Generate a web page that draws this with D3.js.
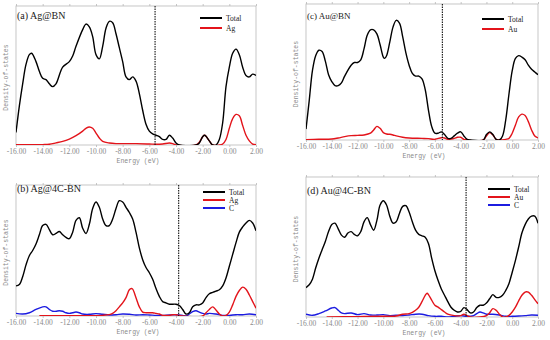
<!DOCTYPE html>
<html>
<head>
<meta charset="utf-8">
<script src="https://cdn.jsdelivr.net/npm/d3@7"></script>
<style>
  body { margin: 0; background: #fff; }
  svg { display: block; }
</style>
</head>
<body>
<svg id="chart" width="550" height="340"></svg>
<script>
// energy ticks shared by all panels
var energyTicks = [-16, -14, -12, -10, -8, -6, -4, -2, 0, 2];

// [energy (eV), DOS in arbitrary units, 0..100 of the panel height]
var totalA = [[-16,9],[-15.75,28],[-15.5,44],[-15.25,58],[-15,65],[-14.83,66],[-14.5,60],[-14.25,53],[-14,48],[-13.75,47],[-13.5,44],[-13.25,42],[-13,44],[-12.5,56],[-12,60],[-11.75,64],[-11.5,71],[-11,83],[-10.75,87],[-10.5,85],[-10.25,78],[-10,65],[-9.75,62],[-9.5,71],[-9.25,84],[-9,89],[-8.75,88],[-8.5,80],[-8.25,70],[-8,60],[-7.75,49],[-7.5,47],[-7.25,49],[-7,46],[-6.75,37],[-6.5,25],[-6.25,15],[-6,10],[-5.75,8],[-5.5,7],[-5.25,6],[-5,4],[-4.75,4],[-4.5,7],[-4.25,5],[-4,1.5],[-3.75,0],[-2.5,0],[-2.25,1.5],[-2,6],[-1.85,7],[-1.5,3],[-1.25,0],[-1,0],[-0.75,4],[-0.5,16],[-0.25,42],[0,56],[0.25,66],[0.5,69],[0.75,65],[1,56],[1.25,50],[1.5,49],[1.75,51],[2,50]];
var agA = [[-16,0.3],[-14,0.3],[-13.5,0.5],[-13,1.5],[-12.5,2.6],[-12,4.3],[-11.5,6.7],[-11,10],[-10.75,12],[-10.5,13],[-10.25,12],[-10,8.6],[-9.75,5],[-9.5,2.6],[-9,1.4],[-8.5,1],[-7,1],[-6,0.7],[-5.5,0.5],[-5,0.7],[-4.5,1.4],[-4.25,1],[-4,0],[-2.5,0],[-2.25,2],[-2,6],[-1.85,7],[-1.5,3],[-1.25,0],[-0.75,0],[-0.5,0.7],[-0.25,4],[0,12],[0.25,19],[0.5,22],[0.75,21],[1,14],[1.25,7],[1.5,3],[1.75,0.7],[2,0.3]];

var totalB = [[-16,23],[-15.75,24],[-15.5,30],[-15.25,39],[-15,46],[-14.75,50],[-14.5,55],[-14.25,62],[-14,69],[-13.75,70],[-13.5,66],[-13.25,62],[-13,63],[-12.75,64.5],[-12.5,62],[-12.25,60],[-12,59],[-11.75,64],[-11.5,73],[-11.25,75],[-11,67],[-10.75,63],[-10.5,70],[-10.25,82],[-10,87],[-9.75,83],[-9.5,74],[-9.25,69],[-9,69],[-8.75,74],[-8.5,82],[-8.25,88],[-8,87],[-7.75,83],[-7.5,79],[-7.25,74],[-7,64],[-6.75,52],[-6.5,43],[-6.25,37],[-6,33],[-5.75,28],[-5.5,21],[-5.25,15],[-5,11],[-4.75,10],[-4.5,9],[-4,9],[-3.75,8],[-3.5,5],[-3.25,1.5],[-3,2.5],[-2.75,7],[-2.5,8.5],[-2.25,8.5],[-2,10],[-1.75,14],[-1.5,17],[-1.25,18],[-1,19],[-0.75,20],[-0.5,23],[-0.25,29],[0,38],[0.25,47],[0.5,56],[0.75,64],[1,68],[1.25,71],[1.5,73],[1.75,71],[2,65]];
var agB = [[-14.25,0.3],[-9.5,0.5],[-9,1],[-8.75,2],[-8.5,4],[-8.25,7],[-8,10],[-7.75,14],[-7.5,20],[-7.35,21],[-7.25,20.5],[-7,14],[-6.75,7],[-6.5,3],[-6.25,2.5],[-5.75,2.5],[-5.5,2],[-5.25,1.5],[-5,0.5],[-4.5,0.5],[-4.25,1],[-4,1],[-3.75,0.5],[-3.5,0],[-2,0],[-1.75,2.5],[-1.5,5],[-1.25,7],[-1,4.6],[-0.75,1.5],[-0.5,0],[-0.25,0.5],[0,3],[0.25,8.5],[0.5,15],[0.75,19.5],[1,22],[1.25,20.5],[1.5,16],[1.75,11],[2,6]];
var cB = [[-16,2],[-15.5,1.5],[-15,2.5],[-14.5,5],[-14,7],[-13.75,7],[-13.5,5],[-13.25,3.6],[-13,3.6],[-12.75,4],[-12.5,3.6],[-12.25,2.5],[-12,2],[-11.75,2.5],[-11.5,3],[-11.25,2.5],[-11,1.5],[-10.5,1.3],[-10,1.8],[-9.5,1.3],[-9,0.8],[-8.5,1],[-8,1.5],[-7.5,1.3],[-7,0.8],[-6.5,1],[-6,0.8],[-5.5,0.5],[-5,0.5],[-4.5,0.8],[-4,1],[-3.5,0.5],[-3.25,0],[-3,1.5],[-2.75,3.3],[-2.5,4],[-2.25,3],[-2,2],[-1.75,1.5],[-1.5,2],[-1,1.5],[-0.5,0.5],[0,0.5],[0.5,1],[1,1],[1.5,1.5],[2,1]];

var totalC = [[-16,8],[-15.75,29],[-15.5,51],[-15.25,62],[-15,66],[-14.75,65],[-14.5,58],[-14.25,48],[-14,43],[-13.75,40],[-13.5,40],[-13.25,42],[-13,47],[-12.5,55],[-12.25,57],[-12,57],[-11.75,59],[-11.5,67],[-11.25,77],[-11,81],[-10.75,81],[-10.5,78],[-10.25,70],[-10,61],[-9.9,60],[-9.75,62],[-9.5,72],[-9.25,83],[-9,88],[-8.75,86],[-8.5,76],[-8.25,64],[-8,55],[-7.75,49],[-7.5,47],[-7.25,47],[-7,45],[-6.75,37],[-6.5,22],[-6.25,10],[-6,5],[-5.75,5],[-5.5,6],[-5.25,4],[-5,1.2],[-4.75,1.2],[-4.5,3],[-4.25,5],[-4,6],[-3.75,3],[-3.5,0.5],[-3.25,0],[-2.25,0],[-2,4],[-1.75,6],[-1.5,4],[-1.25,0.5],[-1,0],[-0.75,3],[-0.5,15],[-0.25,34],[0,51],[0.25,60],[0.5,62],[0.75,61],[1,59],[1.25,55],[1.5,52],[1.75,50],[2,48]];
var auC = [[-16,0.3],[-15,0.5],[-14,0.7],[-13.5,1.5],[-13,2.5],[-12.5,3.2],[-12,3.4],[-11.5,3.7],[-11,5],[-10.75,7.4],[-10.5,10],[-10.25,8.6],[-10,5.4],[-9.75,4.4],[-9.5,4.2],[-9.25,3.7],[-9,3],[-8.5,2],[-8,1.5],[-7,1.2],[-6.5,1],[-6,0.5],[-5.5,1.7],[-5.25,1.5],[-5,0.5],[-4.5,1.2],[-4.25,2],[-4,2],[-3.75,0.5],[-3.5,0],[-2.25,0],[-2,3],[-1.75,5.4],[-1.5,3.7],[-1.25,0.5],[-1,0],[-0.5,0.5],[-0.25,1.2],[0,5],[0.25,11],[0.5,17],[0.75,19],[1,18],[1.25,13.5],[1.5,7.4],[1.75,3],[2,1.5]];

var totalD = [[-16,21],[-15.75,23],[-15.5,27],[-15.25,35],[-15,42],[-14.75,48],[-14.5,54],[-14.25,61],[-14,66],[-13.75,67],[-13.5,63],[-13.25,58.5],[-13,57],[-12.75,60],[-12.5,61],[-12.25,59],[-12,58],[-11.75,61],[-11.5,68],[-11.25,71],[-11,66],[-10.75,62],[-10.5,69],[-10.25,80],[-10,83],[-9.75,80],[-9.5,72],[-9.25,67],[-9,68],[-8.75,74],[-8.5,79],[-8.25,79.5],[-8,75],[-7.75,68],[-7.5,62],[-7.25,59],[-7,58],[-6.75,57],[-6.5,52.5],[-6.25,42],[-6,33],[-5.75,26],[-5.5,20],[-5.25,15.5],[-5,11],[-4.75,7],[-4.5,4.8],[-4.25,3.6],[-4,4],[-3.75,6.7],[-3.5,5.3],[-3.25,2.9],[-3,3.6],[-2.75,6.7],[-2.5,8.4],[-2.25,8.4],[-2,10],[-1.75,13],[-1.5,16],[-1.25,14],[-1,14],[-0.75,15.5],[-0.5,19],[-0.25,24],[0,32],[0.25,40.5],[0.5,50],[0.75,60],[1,66],[1.25,70],[1.5,72],[1.75,72],[2,67]];
var auD = [[-14.4,0],[-12,0.3],[-10,0.5],[-9,0.7],[-8.5,2],[-8,2.4],[-7.75,3.3],[-7.5,4.8],[-7.25,7],[-7,11],[-6.75,15.5],[-6.6,17],[-6.5,16],[-6.25,12],[-6,8.4],[-5.75,7],[-5.5,5.3],[-5.25,3.6],[-5,2],[-4.5,1],[-4,1],[-3.75,2],[-3.5,1],[-3.25,0],[-2.5,0],[-2,1],[-1.75,3],[-1.5,6],[-1.25,4.8],[-1,2],[-0.75,0],[-0.5,0],[-0.25,1.2],[0,3.6],[0.25,7],[0.5,11.5],[0.75,15.5],[1,17.7],[1.1,18],[1.25,17.7],[1.5,15.5],[1.75,12.4],[2,9.5]];
var cD = [[-16,2],[-15.5,1.2],[-15,2.4],[-14.5,4.3],[-14,6.4],[-13.75,6.7],[-13.5,4.8],[-13.25,2.9],[-13,2.4],[-12.5,2.9],[-12,1.7],[-11.5,2.4],[-11,1.4],[-10.5,1.4],[-10,1.7],[-9.5,1],[-9,1.2],[-8.5,1],[-8,1.4],[-7.5,2],[-7,2],[-6.5,1],[-6,0.5],[-5.5,0.5],[-5,0],[-4.5,0.5],[-4,1],[-3.5,0.5],[-3,1],[-2.75,2.4],[-2.5,3.6],[-2.25,2.9],[-2,2],[-1.5,2],[-1,1.4],[-0.5,0.5],[0,0.5],[0.5,0.7],[1,1],[1.5,1.4],[2,1.2]];

// Fermi level of each panel (eV)
var fermiLevels = [-5.57, -3.8, -5.42, -3.58];
var panelTitles = ["(a) Ag@BN", "(b) Ag@4C-BN", "(c) Au@BN", "(d) Au@4C-BN"];

var COLORS = {Total: "#000000", Ag: "#e3141b", Au: "#e3141b", C: "#1c1ce0"};

var panels = [
    {id: "a", x0: 16, x1: 256, top: 6, bottom: 145, titleSize: 10, titleY: 18.5,
     legend: [200, 18, 10],
     series: [["Total", totalA], ["Ag", agA]]},
    {id: "b", x0: 16, x1: 256, top: 185, bottom: 316, titleSize: 10, titleY: 192,
     legend: [203, 192, 8],
     series: [["Total", totalB], ["Ag", agB], ["C", cB]]},
    {id: "c", x0: 306, x1: 538, top: 4, bottom: 140, titleSize: 9, titleY: 19,
     legend: [482, 19, 10],
     series: [["Total", totalC], ["Au", auC]]},
    {id: "d", x0: 306, x1: 538, top: 177, bottom: 317, titleSize: 10, titleY: 194,
     legend: [488, 189, 8],
     series: [["Total", totalD], ["Au", auD], ["C", cD]]}
];

var svg = d3.select("#chart");
var defs = svg.append("defs");

panels.forEach(function(p, i) {
    var x = d3.scaleLinear().domain([-16, 2]).range([p.x0, p.x1]);
    var y = d3.scaleLinear().domain([0, 100]).range([p.bottom, p.top]);
    var g = svg.append("g").attr("class", "panel-" + p.id);

    defs.append("clipPath").attr("id", "clip-" + p.id)
      .append("rect")
        .attr("x", p.x0).attr("y", p.top)
        .attr("width", p.x1 - p.x0).attr("height", p.bottom - p.top);

    // frame
    g.append("rect")
        .attr("x", p.x0).attr("y", p.top)
        .attr("width", p.x1 - p.x0).attr("height", p.bottom - p.top)
        .attr("fill", "none")
        .attr("stroke", "#b8b8b8")
        .attr("stroke-width", 0.8);

    // bottom axis with tick labels
    var xAxis = d3.axisBottom(x)
        .tickValues(energyTicks)
        .tickFormat(function(d) { return d.toFixed(2); })
        .tickSizeInner(2)
        .tickSizeOuter(0)
        .tickPadding(2);
    var ax = g.append("g")
        .attr("transform", "translate(0," + p.bottom + ")")
        .call(xAxis);
    ax.select(".domain").remove();
    ax.selectAll(".tick line").attr("stroke", "#b8b8b8").attr("stroke-width", 0.8);
    ax.selectAll(".tick text")
        .attr("fill", "#8a8a8a")
        .style("font-family", "'Liberation Serif', serif")
        .style("font-size", "7.5px");

    // top axis ticks only
    var topAx = g.append("g")
        .attr("transform", "translate(0," + p.top + ")")
        .call(d3.axisTop(x).tickValues(energyTicks).tickFormat("").tickSizeInner(2).tickSizeOuter(0));
    topAx.select(".domain").remove();
    topAx.selectAll(".tick line").attr("stroke", "#b8b8b8").attr("stroke-width", 0.8);

    // axis titles
    g.append("text")
        .attr("x", (p.x0 + p.x1) / 2 + 2)
        .attr("y", p.bottom + 18)
        .attr("text-anchor", "middle")
        .attr("fill", "#8a8a8a")
        .style("font-family", "'Liberation Mono', monospace")
        .style("font-size", "6.5px")
        .text("Energy (eV)");
    g.append("text")
        .attr("transform", "translate(" + (p.x0 - 8) + "," + ((p.top + p.bottom) / 2 + 2) + ") rotate(-90)")
        .attr("text-anchor", "middle")
        .attr("fill", "#8a8a8a")
        .style("font-family", "'Liberation Mono', monospace")
        .style("font-size", "6.5px")
        .text("Density-of-states");

    // curves (smooth spline, dips below zero are clipped like the original)
    var line = d3.line()
        .x(function(d) { return x(d[0]); })
        .y(function(d) { return y(d[1]); })
        .curve(d3.curveCatmullRom.alpha(0.5));
    var curves = g.append("g").attr("clip-path", "url(#clip-" + p.id + ")");
    // partials under the total
    p.series.slice().reverse().forEach(function(s) {
        curves.append("path")
            .datum(s[1])
            .attr("fill", "none")
            .attr("stroke", COLORS[s[0]])
            .attr("stroke-width", 1.4)
            .attr("stroke-linejoin", "round")
            .attr("d", line);
    });

    // Fermi level
    g.append("line")
        .attr("x1", x(fermiLevels[i])).attr("x2", x(fermiLevels[i]))
        .attr("y1", p.top).attr("y2", p.bottom)
        .attr("stroke", "#111")
        .attr("stroke-width", 1.1)
        .attr("stroke-dasharray", "1.5,1");

    // panel title
    g.append("text")
        .attr("x", p.x0 + 1)
        .attr("y", p.titleY)
        .attr("fill", "#1a1a1a")
        .style("font-family", "'Liberation Serif', serif")
        .style("font-size", p.titleSize + "px")
        .text(panelTitles[i]);

    // legend
    var lx = p.legend[0], ly = p.legend[1], step = p.legend[2];
    p.series.forEach(function(s, k) {
        g.append("line")
            .attr("x1", lx).attr("x2", lx + 22)
            .attr("y1", ly + k * step).attr("y2", ly + k * step)
            .attr("stroke", COLORS[s[0]])
            .attr("stroke-width", 2);
        g.append("text")
            .attr("x", lx + 26)
            .attr("y", ly + k * step + 2.5)
            .attr("fill", "#1a1a1a")
            .style("font-family", "'Liberation Serif', serif")
            .style("font-size", "7.5px")
            .text(s[0]);
    });
});
</script>
</body>
</html>
